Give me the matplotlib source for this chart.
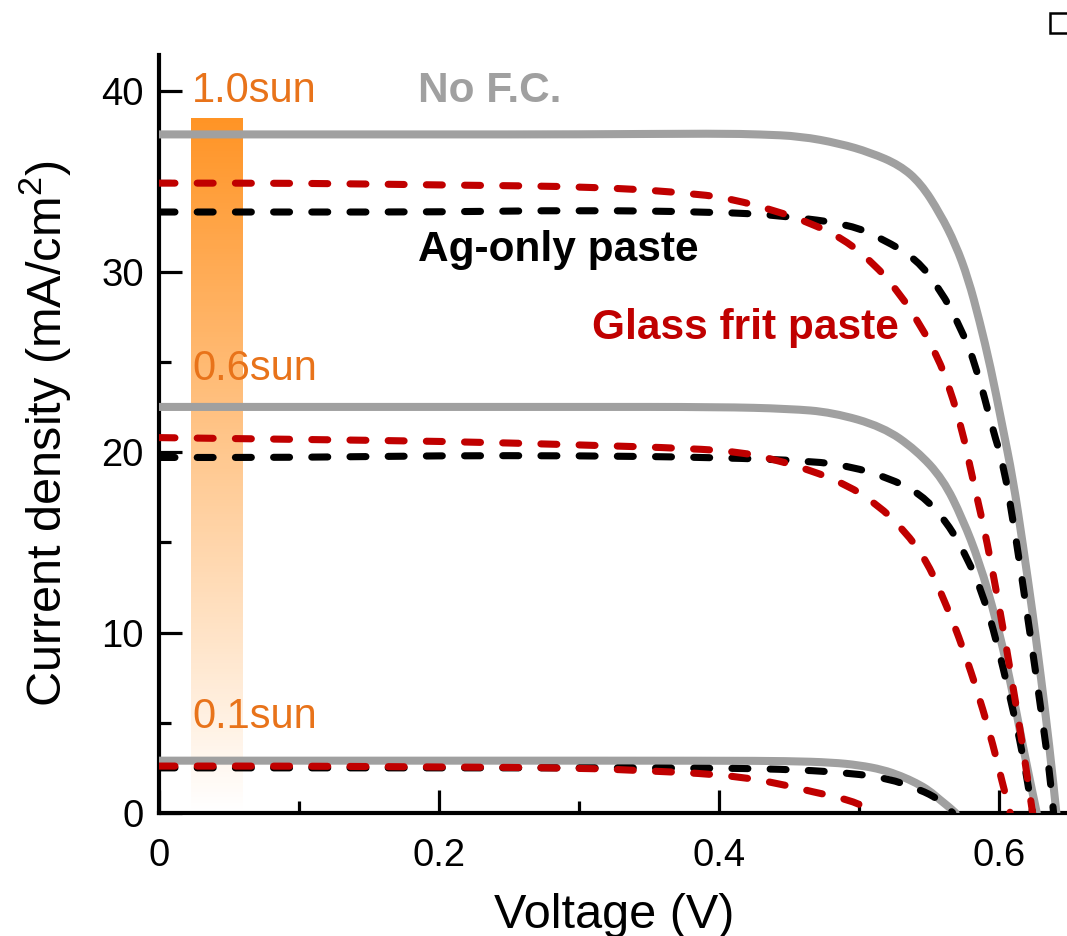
import numpy as np
import matplotlib
matplotlib.use("Agg")
import matplotlib.pyplot as plt
from matplotlib.patches import Rectangle, PathPatch
from matplotlib.path import Path
from matplotlib.ticker import MultipleLocator

plt.rcParams['font.family'] = ['Liberation Sans', 'DejaVu Sans']
plt.rcParams['mathtext.fontset'] = 'custom'
plt.rcParams['mathtext.rm'] = 'Liberation Sans'
plt.rcParams['mathtext.it'] = 'Liberation Sans:italic'
plt.rcParams['lines.scale_dashes'] = False

# ---------------- data ----------------
# 1.0 sun
v_nofc_10 = [0, 0.1, 0.2, 0.3, 0.4, 0.43, 0.458, 0.486, 0.508, 0.529, 0.544, 0.558, 0.569, 0.578, 0.586, 0.594, 0.602, 0.61, 0.617, 0.624, 0.63, 0.636, 0.641]
j_nofc_10 = [37.6, 37.6, 37.6, 37.6, 37.65, 37.6, 37.5, 37.1, 36.6, 35.9, 34.9, 33.2, 31.5, 29.6, 27.3, 24.7, 21.6, 18.5, 14.9, 11.1, 7.5, 3.7, 0]
v_ag_10 = [0, 0.1, 0.2, 0.3, 0.4, 0.446, 0.494, 0.517, 0.541, 0.558, 0.572, 0.584, 0.596, 0.603, 0.612, 0.62, 0.626, 0.632, 0.636, 0.639]
j_ag_10 = [33.3, 33.3, 33.3, 33.4, 33.3, 33.1, 32.6, 31.8, 30.7, 29.0, 27.0, 24.7, 21.1, 19.4, 15.3, 11.1, 7.9, 4.6, 2.3, 0]
v_gf_10 = [0, 0.1, 0.2, 0.315, 0.386, 0.41, 0.439, 0.465, 0.489, 0.51, 0.529, 0.544, 0.556, 0.565, 0.574, 0.579, 0.586, 0.591, 0.601, 0.61, 0.617, 0.624]
j_gf_10 = [34.9, 34.9, 34.8, 34.7, 34.3, 34.0, 33.4, 32.7, 31.8, 30.5, 28.8, 27.0, 25.3, 23.5, 21.1, 19.3, 16.9, 15.2, 11.1, 7.0, 3.7, 0]
# 0.6 sun
v_nofc_06 = [0, 0.1, 0.2, 0.3, 0.4, 0.45, 0.481, 0.517, 0.541, 0.56, 0.574, 0.586, 0.598, 0.608, 0.617, 0.627]
j_nofc_06 = [22.5, 22.5, 22.5, 22.5, 22.5, 22.4, 22.2, 21.4, 20.1, 18.5, 16.3, 13.9, 10.7, 7.4, 3.7, 0]
v_ag_06 = [0, 0.1, 0.2, 0.3, 0.4, 0.467, 0.494, 0.52, 0.544, 0.563, 0.577, 0.589, 0.598, 0.608, 0.617, 0.624]
j_ag_06 = [19.7, 19.7, 19.8, 19.8, 19.7, 19.5, 19.2, 18.6, 17.7, 16.1, 14.2, 12.0, 9.6, 6.4, 3.3, 0]
v_gf_06 = [0, 0.1, 0.2, 0.3, 0.38, 0.415, 0.439, 0.465, 0.491, 0.513, 0.532, 0.549, 0.563, 0.574, 0.586, 0.596, 0.602, 0.608]
j_gf_06 = [20.8, 20.7, 20.6, 20.4, 20.2, 20.0, 19.6, 19.0, 18.2, 17.1, 15.7, 13.9, 11.4, 9.2, 6.4, 3.7, 1.8, 0]
# 0.1 sun
v_nofc_01 = [0, 0.2, 0.4, 0.45, 0.481, 0.5, 0.517, 0.53, 0.541, 0.55, 0.558, 0.564, 0.569]
j_nofc_01 = [2.9, 2.9, 2.9, 2.88, 2.8, 2.65, 2.4, 2.05, 1.66, 1.25, 0.72, 0.35, 0]
v_ag_01 = [0, 0.2, 0.4, 0.458, 0.494, 0.52, 0.544, 0.556, 0.563, 0.567]
j_ag_01 = [2.5, 2.5, 2.5, 2.4, 2.2, 1.94, 1.28, 0.8, 0.33, 0]
v_gf_01 = [0, 0.1, 0.2, 0.3, 0.35, 0.386, 0.415, 0.441, 0.467, 0.494, 0.513]
j_gf_01 = [2.6, 2.6, 2.55, 2.5, 2.33, 2.2, 2.0, 1.66, 1.17, 0.72, 0]

sun_labels = ['1.0sun', '0.6sun', '0.1sun']
sun_label_y = [40.0, 24.6, 5.3]
x_ticks = [0, 0.2, 0.4, 0.6]
x_ticklabels = ['0', '0.2', '0.4', '0.6']
y_ticks = [0, 10, 20, 30, 40]

# ---------------- styles ----------------
GRAY = '#A0A0A0'
RED = '#C00000'
BLACK = '#000000'
ORANGE_TXT = '#E8731A'


def smooth_path(v, j):
    """Quadratic-Bezier rendering through the read points (corner rounding)."""
    p = np.column_stack([v, j]).astype(float)
    verts = [p[0], (p[0] + p[1]) / 2]
    codes = [Path.MOVETO, Path.LINETO]
    for i in range(1, len(p) - 1):
        verts += [p[i], (p[i] + p[i + 1]) / 2]
        codes += [Path.CURVE3, Path.CURVE3]
    verts.append(p[-1])
    codes.append(Path.LINETO)
    return Path(np.array(verts), codes)


fig = plt.figure(figsize=(10.67, 9.36), dpi=100)
ax = fig.add_axes([159/1067, 1-813/936, 910/1067, 758/936])
ax.set_xlim(0, 0.65)
ax.set_ylim(0, 42)

# gradient bar (illumination intensity)
n = 256
grad = np.zeros((n, 1, 4))
rgb = np.array([1.0, 0.56, 0.10])
alpha = np.linspace(0.95, 0.0, n)
grad[:, 0, :3] = rgb
grad[:, 0, 3] = alpha
ax.imshow(grad, extent=[0.0226, 0.0591, 0, 38.5], origin='upper',
          aspect='auto', zorder=1, interpolation='bilinear')

lw_g = 5.8
lw_d = 5.1
dash = (0, (11.5, 16.0))

for v, j in [(v_nofc_10, j_nofc_10), (v_nofc_06, j_nofc_06), (v_nofc_01, j_nofc_01)]:
    ax.add_patch(PathPatch(smooth_path(v, j), fill=False, edgecolor=GRAY, lw=lw_g,
                           capstyle='round', joinstyle='round', zorder=3))
for v, j in [(v_ag_10, j_ag_10), (v_ag_06, j_ag_06), (v_ag_01, j_ag_01)]:
    ax.add_patch(PathPatch(smooth_path(v, j), fill=False, edgecolor=BLACK, lw=lw_d,
                           linestyle=dash, capstyle='round', joinstyle='round', zorder=4))
for v, j in [(v_gf_10, j_gf_10), (v_gf_06, j_gf_06), (v_gf_01, j_gf_01)]:
    ax.add_patch(PathPatch(smooth_path(v, j), fill=False, edgecolor=RED, lw=lw_d,
                           linestyle=dash, capstyle='round', joinstyle='round', zorder=5))

for lab, yy in zip(sun_labels, sun_label_y):
    ax.text(0.0236, yy, lab, color=ORANGE_TXT, fontsize=30, va='center', ha='left', zorder=6)

ax.text(0.185, 40.0, 'No F.C.', color=GRAY, fontsize=30.5, fontweight='bold', va='center', ha='left')
ax.text(0.185, 31.2, 'Ag-only paste', color=BLACK, fontsize=30.5, fontweight='bold', va='center', ha='left')
ax.text(0.309, 26.9, 'Glass frit paste', color=RED, fontsize=30.5, fontweight='bold', va='center', ha='left')

# axes styling
for s in ['top', 'right']:
    ax.spines[s].set_visible(False)
for s in ['left', 'bottom']:
    ax.spines[s].set_linewidth(3.0)
ax.set_xticks(x_ticks)
ax.set_xticklabels(x_ticklabels)
ax.set_yticks(y_ticks)
ax.xaxis.set_minor_locator(MultipleLocator(0.1))
ax.yaxis.set_minor_locator(MultipleLocator(5))
ax.tick_params(which='major', direction='in', length=16.5, width=2.3, labelsize=27.5)
ax.tick_params(axis='x', which='major', pad=18)
ax.tick_params(axis='y', which='major', pad=11)
ax.tick_params(which='minor', direction='in', length=8.5, width=2.3)

ax.set_xlabel('Voltage (V)', fontsize=35, labelpad=14)
ax.set_ylabel('Current density (mA/cm$^2$)', fontsize=35, labelpad=20)

# small square artifact at top right
fig.patches.append(Rectangle((1050/1067, 1-33/936), 25/1067, 20/936,
                             transform=fig.transFigure, fill=True, facecolor='white',
                             edgecolor='black', lw=1.8, clip_on=False))

fig.savefig('out.png', dpi=100)
